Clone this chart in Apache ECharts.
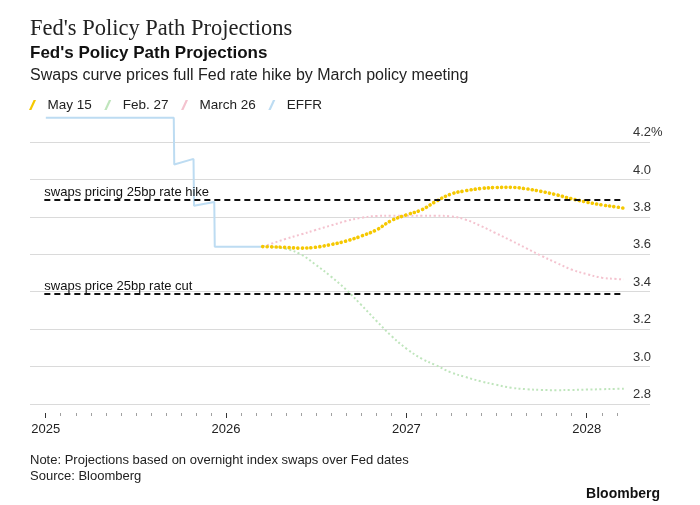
<!DOCTYPE html>
<html>
<head>
<meta charset="utf-8">
<script src="https://cdn.jsdelivr.net/npm/echarts@6/dist/echarts.min.js"></script>
<style>
  html, body { margin: 0; padding: 0; background: #fff; }
  #chart { width: 700px; height: 505px; }
</style>
</head>
<body>
<div id="chart"></div>
<script>
// effective fed funds rate (step line, vertical drops at each cut)
var effrDates = ['2025-01-01', '2025-09-17', '2025-09-18', '2025-09-22', '2025-10-27', '2025-10-28', '2025-12-08', '2025-12-09', '2026-03-16'];
var effrValues = [4.33, 4.33, 4.08, 4.08, 4.11, 3.86, 3.88, 3.64, 3.64];

// swaps-implied path, one value per date
var projDates = ['2026-03-16', '2026-04-01', '2026-05-01', '2026-06-01', '2026-07-01', '2026-08-01', '2026-09-01', '2026-10-01', '2026-11-01', '2026-12-01',
  '2027-01-01', '2027-02-01', '2027-03-01', '2027-04-01', '2027-05-01', '2027-06-01', '2027-07-01', '2027-08-01', '2027-09-01', '2027-10-01', '2027-11-01', '2027-12-01',
  '2028-01-01', '2028-02-01', '2028-03-01', '2028-03-16'];
var may15 = [3.641, 3.640, 3.637, 3.633, 3.638, 3.652, 3.671, 3.697, 3.730, 3.780, 3.811, 3.838, 3.882, 3.922, 3.940, 3.952, 3.957, 3.958, 3.950, 3.936, 3.918, 3.897, 3.879, 3.864, 3.853, 3.847];
var feb27 = [3.645, 3.641, 3.630, 3.600, 3.545, 3.482, 3.411, 3.331, 3.245, 3.165, 3.096, 3.042, 3.008, 2.969, 2.944, 2.921, 2.903, 2.887, 2.879, 2.875, 2.874, 2.875, 2.877, 2.879, 2.881, 2.882];
var march26 = [3.641, 3.655, 3.682, 3.706, 3.730, 3.754, 3.778, 3.795, 3.805, 3.806, 3.806, 3.806, 3.806, 3.803, 3.785, 3.751, 3.713, 3.673, 3.632, 3.592, 3.554, 3.519, 3.494, 3.475, 3.468, 3.466];

// reference levels: current EFFR +/- 25bp
var hikeLevel = 3.89;
var cutLevel = 3.39;
var refStart = '2024-12-29', refEnd = '2028-03-17';

// tick labels for the bottom axis
var yearLabels = ['2025', '2026', '2027', '2028'];
var tickMonths = [];
yearLabels.forEach(function (y) {
  for (var m = 1; m <= 12; m++) {
    if (y === '2028' && m > 3) break;
    tickMonths.push(y + '-' + (m < 10 ? '0' + m : m));
  }
});

function pairs(dates, vals) {
  return dates.map(function (d, i) { return [d, vals[i]]; });
}

var font = '"Liberation Sans", Arial, sans-serif';
var slash = 'path://M0,10 L2.4,10 L7,0 L4.6,0 Z';

var myChart = echarts.init(document.getElementById('chart'));
myChart.setOption({
  animation: false,
  textStyle: { fontFamily: font },
  title: [
    { text: "Fed's Policy Path Projections", left: 25, top: 13,
      textStyle: { fontFamily: '"Liberation Serif", serif', fontSize: 22.5, fontWeight: 'normal', color: '#222' } },
    { text: "Fed's Policy Path Projections", left: 25, top: 40,
      textStyle: { fontSize: 17, fontWeight: 'bold', color: '#111' } },
    { text: 'Swaps curve prices full Fed rate hike by March policy meeting', left: 25, top: 63,
      textStyle: { fontSize: 16, fontWeight: 'normal', color: '#222' } },
    { text: 'Note: Projections based on overnight index swaps over Fed dates', left: 25, top: 449,
      textStyle: { fontSize: 13, fontWeight: 'normal', color: '#222' } },
    { text: 'Source: Bloomberg', left: 25, top: 465,
      textStyle: { fontSize: 13, fontWeight: 'normal', color: '#222' } },
    { text: 'Bloomberg', right: 35, top: 482,
      textStyle: { fontSize: 14, fontWeight: 'bold', color: '#111' } }
  ],
  legend: {
    data: ['May 15', 'Feb. 27', 'March 26', 'EFFR'],
    left: 24, top: 93,
    itemWidth: 20, itemHeight: 10, itemGap: 12.5,
    icon: slash,
    textStyle: { fontSize: 13.5, color: '#222' }
  },
  grid: [
    { left: 30, right: 50, top: 114, bottom: 101 },
    { left: 45.7, right: 83.2, top: 400, bottom: 92 }
  ],
  xAxis: [
    { type: 'time', gridIndex: 0, min: '2024-11-30', max: '2028-05-08',
      axisLine: { show: false }, axisTick: { show: false }, axisLabel: { show: false }, splitLine: { show: false } },
    { type: 'category', gridIndex: 1, data: tickMonths, boundaryGap: false,
      axisLine: { show: false },
      axisTick: { show: true, interval: 0, length: 3, lineStyle: { color: '#a0a0a0' } },
      axisLabel: { show: false } },
    { type: 'category', gridIndex: 1, data: tickMonths, boundaryGap: false, position: 'bottom',
      axisLine: { show: false },
      axisTick: { show: true, length: 5, interval: function (i) { return i % 12 === 0; }, lineStyle: { color: '#333' } },
      axisLabel: { show: true, interval: function (i) { return i % 12 === 0; }, margin: 10,
        formatter: function (v) { return v.slice(0, 4); }, fontSize: 13, color: '#222' } }
  ],
  yAxis: [
    { type: 'value', gridIndex: 0, position: 'right', min: 2.8, max: 4.35, interval: 0.2,
      axisLine: { show: false }, axisTick: { show: false },
      splitLine: { show: true, showMaxLine: false, lineStyle: { color: '#dadada', width: 1.2 } },
      axisLabel: { inside: true, margin: 17, align: 'left', verticalAlign: 'bottom', padding: [0, 0, 3, 0],
        showMaxLabel: false, fontSize: 13, color: '#333',
        formatter: function (v) { return Math.abs(v - 4.2) < 1e-6 ? '4.2%' : v.toFixed(1); } } },
    { type: 'value', gridIndex: 1, show: false }
  ],
  series: [
    { name: 'EFFR', type: 'line', xAxisIndex: 0, yAxisIndex: 0, showSymbol: false,
      data: pairs(effrDates, effrValues),
      itemStyle: { color: '#bddcf2' },
      lineStyle: { color: '#bddcf2', width: 2 },
      markLine: {
        silent: true, symbol: 'none',
        lineStyle: { color: '#111', width: 2, type: [6, 4] },
        label: { show: true, position: 'insideStartTop', distance: [0, 1], color: '#111', fontSize: 13, fontFamily: font },
        data: [
          [{ coord: [refStart, hikeLevel], label: { formatter: 'swaps pricing 25bp rate hike' } }, { coord: [refEnd, hikeLevel] }],
          [{ coord: [refStart, cutLevel], label: { formatter: 'swaps price 25bp rate cut' } }, { coord: [refEnd, cutLevel] }]
        ]
      } },
    { name: 'Feb. 27', type: 'line', xAxisIndex: 0, yAxisIndex: 0, showSymbol: false, smooth: 0.4,
      data: pairs(projDates, feb27),
      itemStyle: { color: '#bfe5bc' },
      lineStyle: { color: '#bfe5bc', width: 2, type: [2, 2.5] } },
    { name: 'March 26', type: 'line', xAxisIndex: 0, yAxisIndex: 0, showSymbol: false, smooth: 0.4,
      data: pairs(projDates, march26),
      itemStyle: { color: '#f4c3cf' },
      lineStyle: { color: '#f4c3cf', width: 2, type: [2, 2.5] } },
    { name: 'May 15', type: 'line', xAxisIndex: 0, yAxisIndex: 0, showSymbol: false, smooth: 0.4,
      data: pairs(projDates, may15),
      itemStyle: { color: '#f5c800' },
      lineStyle: { color: '#f5c800', width: 3.6, type: [0.1, 4.3], cap: 'round' } }
  ]
});
</script>
</body>
</html>
